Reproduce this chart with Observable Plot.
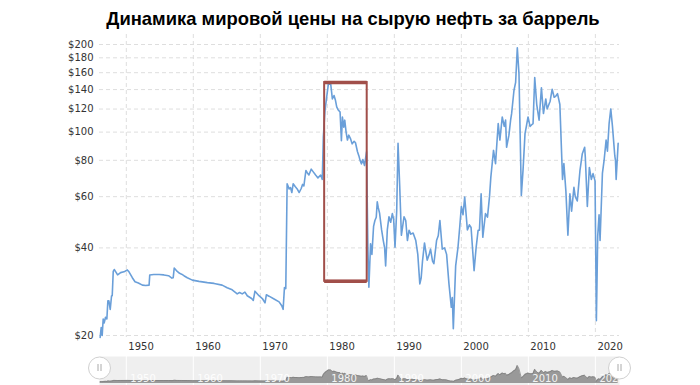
<!DOCTYPE html>
<html><head><meta charset="utf-8">
<script src="https://cdn.jsdelivr.net/npm/d3@7"></script>
<script src="https://cdn.jsdelivr.net/npm/@observablehq/plot@0.6"></script>
<style>
body{margin:0;background:#fff;width:700px;height:385px;overflow:hidden}
#title{height:34px;box-sizing:border-box;padding-top:9px;padding-left:6px;text-align:center;font:bold 18.4px/20px "Liberation Sans",Arial,sans-serif;color:#000;white-space:nowrap}
svg{display:block}
</style></head><body>
<div id="title">Динамика мировой цены на сырую нефть за баррель</div>
<div id="chart"></div>
<div id="nav"></div>
<script>
const years = [
1946.1,1946.25,1946.4,1946.55,1946.7,1946.9,1947.1,1947.25,1947.4,1947.6,1947.8,1947.9,1948.05,1948.2,1948.5,1948.7,1949.15,1949.65,
1950.15,1950.4,1950.9,1951.3,1951.8,1952.4,1952.9,1953.4,1953.5,1954.1,1954.9,1955.6,1956.3,1956.8,1957.0,1957.15,1957.6,1957.95,1958.25,1958.6,1959.1,1959.85,
1960.85,1962.1,1963.1,1964.3,1965.05,1965.8,1966.55,1966.9,1967.3,1967.7,1968.05,1968.7,1968.95,1969.2,1969.8,1970.3,1970.7,1970.9,1971.3,1972.05,1972.8,1973.2,1973.4,1973.6,1973.8,
1974.0,1974.3,1974.5,1974.7,1974.9,1975.2,1975.5,1975.8,1976.1,1976.3,1976.5,1976.8,1977.0,1977.25,1977.6,1977.9,1978.25,1978.6,1979.0,1979.25,1979.4,1979.65,1979.9,
1980.15,1980.5,1980.75,1981.0,1981.2,1981.4,1981.6,1981.9,1982.1,1982.25,1982.45,1982.6,1982.8,1983.0,1983.2,1983.45,1983.7,1984.0,1984.2,1984.5,1984.7,1984.9,1985.1,1985.3,1985.55,1985.85,
1986.05,1986.2,1986.45,1986.65,1986.9,1987.1,1987.3,1987.45,1987.6,1987.8,1988.1,1988.35,1988.55,1988.7,1988.95,1989.2,1989.45,1989.7,1989.9,
1990.1,1990.35,1990.55,1990.8,1991.05,1991.45,1991.7,1991.95,1992.2,1992.45,1992.8,1993.2,1993.5,1993.8,1994.0,1994.2,1994.5,1994.9,1995.2,1995.4,1995.7,1995.9,1996.3,1996.55,1996.8,1997.15,1997.5,1997.8,1998.15,1998.5,1998.65,1998.8,1999.15,1999.5,1999.75,
2000.0,2000.25,2000.5,2000.9,2001.2,2001.45,2001.9,2002.2,2002.5,2002.7,2002.95,2003.2,2003.6,2003.9,2004.2,2004.4,2004.8,2005.1,2005.5,2005.75,2006.1,2006.4,2006.6,2006.75,2007.1,2007.35,2007.5,2007.85,2008.1,2008.35,2008.6,2008.95,2009.2,2009.5,2009.7,2009.95,
2010.25,2010.5,2010.7,2010.95,2011.25,2011.6,2011.95,2012.25,2012.6,2012.8,2013.25,2013.55,2013.85,2014.1,2014.35,2014.7,2015.1,2015.3,2015.6,2015.9,2016.2,2016.45,2016.8,2017.0,2017.3,2017.7,2018.05,2018.4,2018.5,2018.8,2019.1,2019.4,2019.65,2019.95,
2020.15,2020.35,2020.55,2020.7,2021.05,2021.3,2021.6,2021.8,2022.05,2022.3,2022.55,2022.9,2023.0,2023.1,2023.4
];
const prices = [
19.7,21.3,20.0,22.8,22.1,23.1,22.8,26.3,26.3,24.6,27.4,27.4,33.2,33.7,32.9,32.3,32.9,33.1,
33.6,33.1,31.6,30.6,30.3,29.8,29.7,29.8,32.3,32.4,32.4,32.3,32.1,31.5,31.6,34.1,33.2,32.7,32.5,32.1,31.6,31.0,
30.7,30.4,30.2,29.8,29.2,28.7,27.8,28.1,27.8,28.2,27.4,26.8,26.4,28.4,27.4,26.8,25.9,27.6,27.3,26.7,26.1,25.3,24.6,29.2,29.0,
66.4,63.8,64.5,62.0,66.4,65.0,63.8,62.0,64.0,66.1,65.3,73.8,72.5,71.2,74.6,73.0,71.2,69.6,71.2,68.8,96.0,118.6,131.8,
146.0,146.5,130.0,133.6,129.0,122.0,119.4,117.2,93.5,112.7,104.0,109.9,100.0,93.9,97.6,95.0,91.1,93.0,91.9,85.6,83.0,79.8,77.8,80.5,76.8,85.6,
40.4,29.3,41.3,38.0,47.4,49.7,51.0,57.6,55.0,52.6,46.1,42.4,40.0,34.7,46.1,51.2,49.0,52.5,50.0,
40.2,53.5,91.5,65.3,44.2,51.2,49.7,42.4,46.0,44.6,45.0,42.4,38.0,30.1,31.5,36.0,41.6,36.3,38.0,39.6,36.0,35.3,42.4,44.0,49.7,39.6,40.0,38.0,30.1,25.0,27.0,21.1,34.7,40.2,47.0,
55.5,52.0,59.8,46.1,48.0,47.0,33.4,40.0,46.0,46.0,61.4,43.5,52.5,51.0,60.0,70.0,86.5,77.9,107.0,93.9,112.7,104.6,110.0,88.7,97.6,109.9,115.7,139.0,148.3,195.0,158.5,60.6,73.7,98.8,104.6,112.7,
104.6,106.0,107.0,154.0,124.4,109.9,142.0,115.8,130.0,120.1,127.7,140.4,131.7,133.0,135.5,124.4,68.8,77.9,62.7,44.2,61.4,53.5,64.6,60.0,58.0,73.8,84.3,88.7,82.0,55.5,75.6,68.8,72.0,68.0,
22.5,44.0,52.0,42.4,72.1,79.9,93.9,86.0,107.0,120.1,104.6,82.8,80.0,68.8,91.5
];
const yTicks = [20,40,60,80,100,120,140,160,180,200];
const xTicks = [1950,1960,1970,1980,1990,2000,2010,2020];
const xDomain = [1946.0, 2023.6];
const highlightYears = [1979.6, 1985.95];
const highlightPrices = [30.7, 148];

const data = years.map((y,i)=>({year:y, price:prices[i]}));
const box = [{x1:highlightYears[0], x2:highlightYears[1], y1:highlightPrices[0], y2:highlightPrices[1]}];
const gridStyle = {stroke:"#dedede", strokeOpacity:1, strokeDasharray:"4,3"};
const lineColor = "#6a9fd9";
const boxColor = "#a14f4a";

const main = Plot.plot({
  width:700, height:318,
  marginLeft:99, marginRight:81, marginTop:10, marginBottom:17,
  style:{fontFamily:"DejaVu Sans", fontSize:"10px", color:"#333", background:"transparent"},
  x:{type:"linear", domain:xDomain, label:null},
  y:{type:"log", domain:[20,200], label:null},
  marks:[
    Plot.gridY(yTicks, {...gridStyle}),
    Plot.gridX(xTicks, {...gridStyle, insetTop:-10, insetBottom:-2}),
    Plot.axisY(yTicks, {tickSize:0, tickPadding:6, tickFormat:d=>"$"+d}),
    Plot.axisX(xTicks, {tickSize:0, tickPadding:7, textAnchor:"start", dx:2, tickFormat:d=>String(d)}),
    Plot.line(data, {x:"year", y:"price", stroke:lineColor, strokeWidth:1.6}),
    Plot.rect(box, {x1:"x1", x2:"x2", y1:"y1", y2:"y2", fill:"none", stroke:boxColor, strokeWidth:2}),
    Plot.ruleY(box, {y:"y1", x1:"x1", x2:"x2", stroke:boxColor, strokeWidth:3.5}),
    Plot.ruleY(box, {y:"y2", x1:"x1", x2:"x2", stroke:boxColor, strokeWidth:3.5})
  ]
});
document.getElementById("chart").appendChild(main);

const nav = Plot.plot({
  width:700, height:33,
  marginLeft:99, marginRight:81, marginTop:12.5, marginBottom:2,
  style:{fontFamily:"DejaVu Sans", fontSize:"10px", background:"transparent", overflow:"visible"},
  x:{type:"linear", domain:xDomain, axis:null},
  y:{domain:[0,200], axis:null},
  marks:[
    Plot.frame({fill:"#efefef", stroke:null, insetTop:-8.5, insetBottom:-2}),
    Plot.ruleX(xTicks, {stroke:"#fff", strokeWidth:1, insetTop:-8.5, insetBottom:-2}),
    Plot.areaY(data, {x:"year", y:"price", fill:"#999"}),
    Plot.lineY(data, {x:"year", y:"price", stroke:"#7a7a7a", strokeWidth:0.7}),
    Plot.text(xTicks, {x:d=>d, text:d=>String(d), frameAnchor:"top", dy:9.5, dx:4, textAnchor:"start", fill:"#fff", fillOpacity:0.9}),
    Plot.dot(xDomain, {x:d=>d, frameAnchor:"top", dy:3, r:11, fill:"#fff", stroke:"#d0d0d0", strokeWidth:1}),
    Plot.ruleX(xDomain, {x:d=>d, dx:-1.5, insetTop:-0.5, insetBottom:12, stroke:"#aaa", strokeWidth:1}),
    Plot.ruleX(xDomain, {x:d=>d, dx:1.5, insetTop:-0.5, insetBottom:12, stroke:"#aaa", strokeWidth:1})
  ]
});
document.getElementById("nav").appendChild(nav);
</script>
</body></html>
